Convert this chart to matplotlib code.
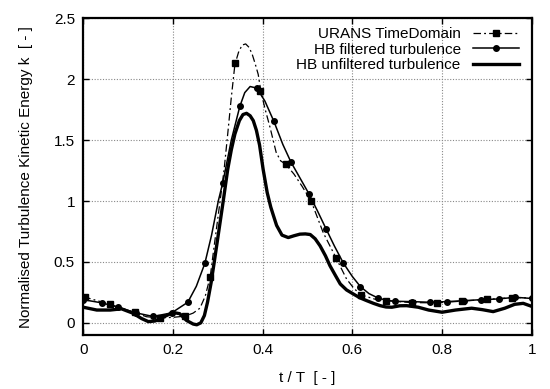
import numpy as np
import matplotlib
matplotlib.use("Agg")
import matplotlib.pyplot as plt
from matplotlib.lines import Line2D

plt.rcParams['font.family'] = ['Liberation Sans', 'DejaVu Sans']

# URANS time domain (dash-dot, squares)
urans_t = [0.0, 0.058, 0.097, 0.141, 0.171, 0.2, 0.227, 0.245, 0.26, 0.272, 0.283,
           0.295, 0.305, 0.314, 0.322, 0.33, 0.338, 0.346, 0.354, 0.362, 0.37,
           0.377, 0.383, 0.39, 0.396, 0.405, 0.416, 0.43, 0.44, 0.452, 0.47,
           0.488, 0.508, 0.535, 0.564, 0.587, 0.604, 0.62, 0.654, 0.676, 0.732,
           0.788, 0.844, 0.9, 0.956, 1.0]
urans_k = [0.215, 0.153, 0.105, 0.05, 0.04, 0.045, 0.055, 0.08, 0.12, 0.22, 0.38,
           0.72, 1.0, 1.26, 1.55, 1.85, 2.12, 2.22, 2.28, 2.29, 2.26,
           2.2, 2.13, 2.04, 1.9, 1.76, 1.61, 1.4, 1.33, 1.3, 1.22,
           1.12, 1.0, 0.74, 0.53, 0.36, 0.28, 0.229, 0.19, 0.182, 0.166,
           0.164, 0.178, 0.192, 0.207, 0.205]
urans_mark_t = [0.003, 0.059, 0.115, 0.171, 0.227, 0.283, 0.339, 0.395, 0.452,
                0.508, 0.564, 0.62, 0.676, 0.732, 0.788, 0.844, 0.9, 0.956]
urans_mark_k = [0.213, 0.153, 0.085, 0.04, 0.055, 0.38, 2.13, 1.9, 1.3,
                1.0, 0.53, 0.229, 0.182, 0.166, 0.164, 0.178, 0.192, 0.207]

# HB filtered turbulence (thin solid, circles)
filt_t = [0.0, 0.041, 0.078, 0.117, 0.156, 0.197, 0.233, 0.252, 0.271, 0.286,
          0.301, 0.311, 0.33, 0.349, 0.36, 0.372, 0.387, 0.405, 0.425, 0.445,
          0.463, 0.483, 0.503, 0.522, 0.541, 0.56, 0.58, 0.6, 0.618, 0.637,
          0.657, 0.676, 0.695, 0.734, 0.772, 0.81, 0.849, 0.887, 0.926, 0.963, 1.0]
filt_k = [0.19, 0.164, 0.128, 0.082, 0.052, 0.082, 0.169, 0.3, 0.488, 0.72,
          1.0, 1.15, 1.5, 1.777, 1.89, 1.94, 1.927, 1.82, 1.654, 1.464,
          1.32, 1.19, 1.06, 0.92, 0.774, 0.63, 0.49, 0.38, 0.297, 0.24,
          0.204, 0.185, 0.177, 0.174, 0.169, 0.174, 0.182, 0.19, 0.196, 0.21, 0.2]
filt_mark_t = [0.0, 0.041, 0.078, 0.117, 0.156, 0.197, 0.233, 0.271, 0.311, 0.349,
               0.387, 0.425, 0.463, 0.503, 0.541, 0.58, 0.618, 0.657, 0.695,
               0.734, 0.772, 0.81, 0.849, 0.887, 0.926, 0.963, 1.0]
filt_mark_k = [0.19, 0.164, 0.128, 0.082, 0.052, 0.082, 0.169, 0.488, 1.15, 1.777,
               1.927, 1.654, 1.32, 1.06, 0.774, 0.49, 0.297, 0.204, 0.177,
               0.174, 0.169, 0.174, 0.182, 0.19, 0.196, 0.21, 0.2]

# HB unfiltered turbulence (thick solid)
unf_t = [0.0, 0.03, 0.06, 0.085, 0.11, 0.13, 0.145, 0.16, 0.18, 0.2, 0.215,
         0.23, 0.245, 0.253, 0.262, 0.27, 0.277, 0.285, 0.292, 0.302, 0.312,
         0.322, 0.33, 0.338, 0.348, 0.356, 0.364, 0.372, 0.379, 0.386, 0.393,
         0.401, 0.41, 0.418, 0.424, 0.431, 0.443, 0.457, 0.47, 0.483, 0.495,
         0.506, 0.517, 0.528, 0.54, 0.55, 0.562, 0.573, 0.587, 0.602, 0.617,
         0.632, 0.647, 0.662, 0.675, 0.688, 0.706, 0.721, 0.747, 0.77, 0.8,
         0.83, 0.866, 0.89, 0.914, 0.94, 0.962, 0.981, 1.0]
unf_k = [0.128, 0.105, 0.105, 0.115, 0.08, 0.035, 0.01, 0.015, 0.05, 0.085, 0.075,
         0.02, -0.01, -0.016, 0.0, 0.06, 0.17, 0.33, 0.5, 0.75, 1.0,
         1.26, 1.42, 1.55, 1.66, 1.71, 1.72, 1.7, 1.66, 1.58, 1.46,
         1.26, 1.07, 0.95, 0.88, 0.8, 0.72, 0.7, 0.715, 0.728, 0.73,
         0.725, 0.69, 0.632, 0.55, 0.469, 0.39, 0.319, 0.27, 0.237, 0.205,
         0.182, 0.16, 0.141, 0.13, 0.128, 0.14, 0.141, 0.128, 0.105, 0.087,
         0.105, 0.12, 0.108, 0.092, 0.12, 0.152, 0.16, 0.135]

fig = plt.figure(figsize=(5.5, 3.89), dpi=100)
ax = fig.add_axes([0.1515, 0.1388, 0.8153, 0.8141])

dash = (6, 2.5, 1.5, 2.5)
ax.plot(urans_t, urans_k, color='black', lw=0.9, dashes=dash)
ax.plot(urans_mark_t, urans_mark_k, ls='none', marker='s', ms=4, color='black')
ax.plot(filt_t, filt_k, color='black', lw=1.1)
ax.plot(filt_mark_t, filt_mark_k, ls='none', marker='o', ms=4, color='black')
ax.plot(unf_t, unf_k, color='black', lw=2.4)

handles = [
    Line2D([], [], color='black', lw=0.9, dashes=dash, marker='s', ms=4, markevery=[1]),
    Line2D([], [], color='black', lw=1.1, marker='o', ms=4, markevery=[1]),
    Line2D([], [], color='black', lw=2.4),
]
labels = ['URANS TimeDomain', 'HB filtered turbulence', 'HB unfiltered turbulence']
leg = ax.legend(handles, labels, loc='upper right', frameon=False, markerfirst=False,
                fontsize=11, handlelength=3.0, handletextpad=0.8, labelspacing=0.08,
                borderaxespad=0.3, bbox_to_anchor=(0.995, 1.005))
for t in leg.get_texts():
    t.set_ha('right')

ax.set_xlim(0, 1)
ax.set_ylim(-0.1, 2.5)
ax.set_xticks([0, 0.2, 0.4, 0.6, 0.8, 1])
ax.set_xticklabels(['0', '0.2', '0.4', '0.6', '0.8', '1'])
ax.set_yticks([0, 0.5, 1, 1.5, 2, 2.5])
ax.set_yticklabels(['0', '0.5', '1', '1.5', '2', '2.5'])
ax.tick_params(direction='in', length=4, width=1, top=True, right=True,
               labelsize=11, pad=6)
ax.grid(True, color='#888888', ls=(0, (1, 1.5)), lw=0.8)
for s in ax.spines.values():
    s.set_linewidth(1.6)

ax.set_xlabel('t / T  [ - ]', fontsize=11, labelpad=10)
ax.set_ylabel('Normalised Turbulence Kinetic Energy k  [ - ]', fontsize=11, labelpad=15)

fig.savefig('out.png', dpi=100)
